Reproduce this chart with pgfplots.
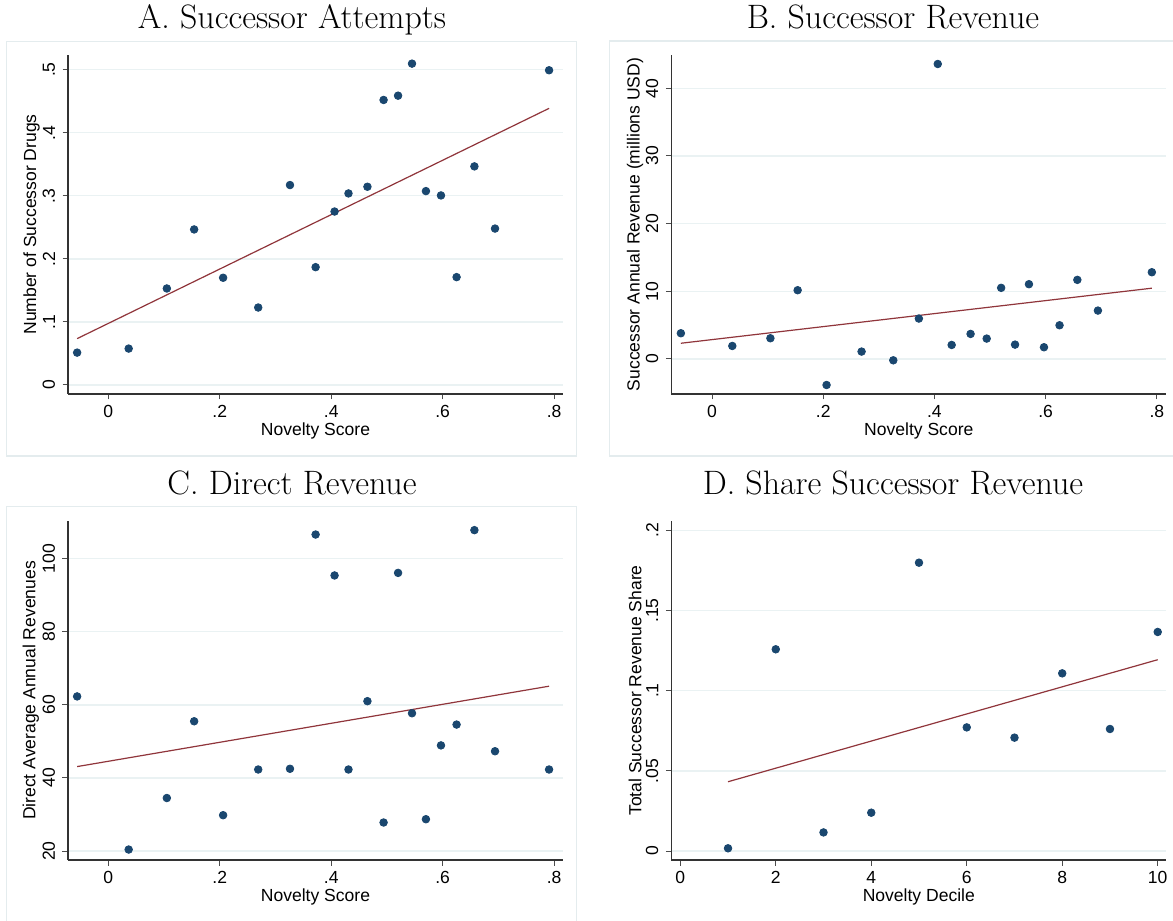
\documentclass[border=0pt]{standalone}
\usepackage{fontspec}
\usepackage{pgfplots}
\pgfplotsset{compat=1.18}
\newfontfamily\sansf{Liberation Sans}
\definecolor{stnavy}{RGB}{26,71,111}
\definecolor{stmaroon}{RGB}{144,53,59}
\definecolor{stgrid}{RGB}{234,242,243}
\definecolor{stbox}{RGB}{228,236,238}

\pgfplotsset{
  stata/.style={
    scale only axis,
    width=247.5bp, height=169.5bp,
    anchor=south west,
    axis lines*=left,
    axis line style={-, black!80, line width=0.55bp},
    tick align=outside,
    major tick length=2.75bp,
    tick style={black!70, line width=0.5bp},
    ymajorgrids,
    grid style={stgrid, line width=0.7bp},
    font=\sansf\fontsize{8.8}{10}\selectfont,
    xticklabel style={anchor=north, inner sep=0pt},
    yticklabel style={rotate=90, anchor=south, inner sep=0pt},
    xticklabel shift=2.75bp,
    yticklabel shift=3.5bp,
    every axis x label/.style={at={(axis description cs:0.5,0)}, anchor=base, yshift=-20.6bp},
    clip mode=individual,
  },
  dots/.style={only marks, mark=*, mark size=1.9bp, draw=stnavy, fill=stnavy},
  fit/.style={no marks, stmaroon, line width=0.6bp},
}

\pgfplotstableread{
x y
-0.056 0.0513
0.0365 0.0577
0.105 0.153
0.154 0.2466
0.206 0.170
0.269 0.1228
0.326 0.317
0.372 0.1868
0.406 0.275
0.431 0.3037
0.465 0.3143
0.494 0.4519
0.520 0.4587
0.545 0.5095
0.570 0.3074
0.597 0.3005
0.625 0.171
0.657 0.3466
0.694 0.248
0.791 0.499
}\attempts

\pgfplotstableread{
x y
-0.056 3.80
0.0365 1.92
0.105 3.06
0.154 10.16
0.206 -3.85
0.269 1.09
0.326 -0.20
0.372 5.97
0.406 43.6
0.431 2.07
0.465 3.70
0.494 3.01
0.520 10.51
0.545 2.12
0.570 11.05
0.597 1.73
0.625 4.98
0.657 11.69
0.694 7.15
0.791 12.82
}\succrev

\pgfplotstableread{
x y
-0.056 62.3
0.0365 20.4
0.105 34.5
0.154 55.5
0.206 29.8
0.269 42.3
0.326 42.5
0.372 106.6
0.406 95.4
0.431 42.3
0.465 61.0
0.494 27.8
0.520 96.1
0.545 57.7
0.570 28.7
0.597 48.9
0.625 54.6
0.657 107.8
0.694 47.3
0.791 42.3
}\directrev

\pgfplotstableread{
x y
1 0.0017
2 0.1258
3 0.0116
4 0.0239
5 0.1798
6 0.0771
7 0.0707
8 0.1108
9 0.0761
10 0.1366
}\sharerev

\begin{document}
\begin{tikzpicture}
\fill[white] (0,0) rectangle (586.5bp,460.5bp);
\path[use as bounding box] (0,0) rectangle (586.5bp,460.5bp);

% panel boxes
\draw[stbox, line width=0.7bp] (3.15bp,232.5bp) rectangle (288.35bp,439.65bp);
\draw[stbox, line width=0.7bp] (304.85bp,232.5bp) rectangle (590bp,440bp);
\draw[stbox, line width=0.7bp] (3.15bp,-5bp) rectangle (288.35bp,207.15bp);

% titles
\node[anchor=base, font=\fontsize{17}{20}\selectfont] at (146bp,446bp) {A. Successor Attempts};
\node[anchor=base, font=\fontsize{17}{20}\selectfont] at (446.5bp,446bp) {B. Successor Revenue};
\node[anchor=base, font=\fontsize{17}{20}\selectfont] at (146bp,213bp) {C. Direct Revenue};
\node[anchor=base, font=\fontsize{17}{20}\selectfont] at (446.5bp,213bp) {D. Share Successor Revenue};

% A
\begin{axis}[stata, at={(34bp,263.5bp)},
  xmin=-0.0724, xmax=0.816, ymin=-0.0143, ymax=0.5232,
  xtick={0,0.2,0.4,0.6,0.8}, xticklabels={0,.2,.4,.6,.8},
  ytick={0,0.1,0.2,0.3,0.4,0.5}, yticklabels={0,.1,.2,.3,.4,.5},
  xlabel={Novelty Score}, ylabel={Number of Successor Drugs},
  every axis y label/.style={at={(axis description cs:-0.0738,0.5)}, rotate=90, anchor=center}]
\addplot[fit] coordinates {(-0.056,0.0735) (0.791,0.4386)};
\addplot[dots] table {\attempts};
\end{axis}

% B
\begin{axis}[stata, at={(335.65bp,263.5bp)},
  xmin=-0.0732, xmax=0.817, ymin=-5.18, ymax=44.93,
  xtick={0,0.2,0.4,0.6,0.8}, xticklabels={0,.2,.4,.6,.8},
  ytick={0,10,20,30,40}, yticklabels={0,10,20,30,40},
  xlabel={Novelty Score}, ylabel={Successor Annual Revenue (millions USD)},
  every axis y label/.style={at={(axis description cs:-0.0733,0.5)}, rotate=90, anchor=center}]
\addplot[fit] coordinates {(-0.056,2.32) (0.791,10.46)};
\addplot[dots] table {\succrev};
\end{axis}

% C
\begin{axis}[stata, at={(34bp,30.5bp)},
  xmin=-0.0724, xmax=0.816, ymin=17.54, ymax=110.3,
  xtick={0,0.2,0.4,0.6,0.8}, xticklabels={0,.2,.4,.6,.8},
  ytick={20,40,60,80,100}, yticklabels={20,40,60,80,100},
  xlabel={Novelty Score}, ylabel={Direct Average Annual Revenues},
  every axis y label/.style={at={(axis description cs:-0.075,0.5)}, rotate=90, anchor=center}]
\addplot[fit] coordinates {(-0.056,43.1) (0.791,65.1)};
\addplot[dots] table {\directrev};
\end{axis}

% D
\begin{axis}[stata, at={(335.65bp,30.5bp)},
  xmin=-0.188, xmax=10.18, ymin=-0.0056, ymax=0.2058,
  xtick={0,2,4,6,8,10}, xticklabels={0,2,4,6,8,10},
  ytick={0,0.05,0.1,0.15,0.2}, yticklabels={0,.05,.1,.15,.2},
  xlabel={Novelty Decile}, ylabel={Total Successor Revenue Share},
  every axis y label/.style={at={(axis description cs:-0.0733,0.5)}, rotate=90, anchor=center}]
\addplot[fit] coordinates {(1,0.0432) (10,0.1193)};
\addplot[dots] table {\sharerev};
\end{axis}
\end{tikzpicture}
\end{document}
